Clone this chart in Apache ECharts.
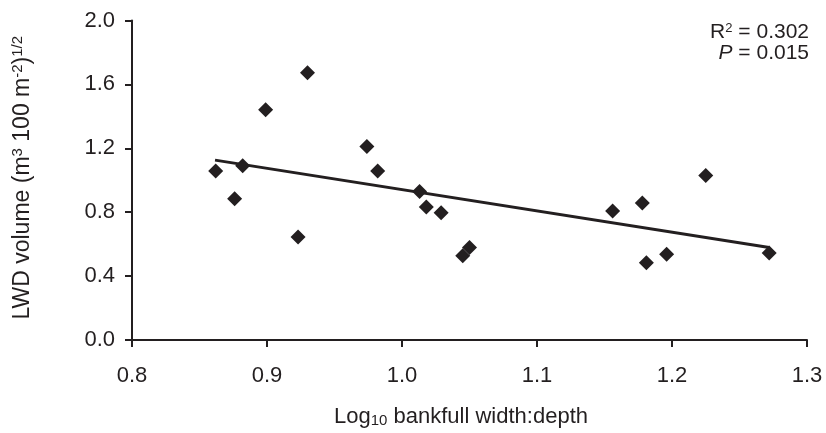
<!DOCTYPE html>
<html lang="en">
<head>
    <meta charset="utf-8"/>
    <title>LWD volume vs bankfull width:depth</title>
    <script src="https://cdn.jsdelivr.net/npm/echarts@6/dist/echarts.min.js"></script>
</head>
<body style="margin: 0;">
<div id="chart" style="width: 826px;height: 433px;"></div>

<script type="text/javascript">
    // log10 bankfull width:depth
    var widthDepth = [0.862, 0.876, 0.882, 0.899, 0.923, 0.930, 0.974, 0.982, 1.013, 1.018,
        1.029, 1.045, 1.050, 1.156, 1.178, 1.181, 1.196, 1.225, 1.272];
    // LWD volume (m3 100 m-2)^1/2
    var lwdVolume = [1.058, 0.884, 1.091, 1.441, 0.645, 1.673, 1.212, 1.058, 0.930, 0.833,
        0.796, 0.528, 0.579, 0.808, 0.858, 0.484, 0.536, 1.029, 0.544];
    // regression line end points
    var fitX = [0.8615, 1.272];
    var fitY = [1.126, 0.579];

    var yTicks = [0.0, 0.4, 0.8, 1.2, 1.6, 2.0];

    var ink = '#231f20';
    var font = 'Liberation Sans, Arial, sans-serif';

    var points = widthDepth.map(function (x, i) {
        return [x, lwdVolume[i]];
    });
    var fitLine = fitX.map(function (x, i) {
        return [x, fitY[i]];
    });

    var chart = echarts.init(document.getElementById('chart'));

    chart.setOption({
        animation: false,
        backgroundColor: '#fff',
        grid: {left: 132, right: 19, top: 20.5, bottom: 89.5},
        xAxis: {
            type: 'value',
            min: 0.8,
            max: 1.3,
            interval: 0.1,
            name: '{n|Log}{s|10}{n| bankfull width:depth}',
            nameLocation: 'middle',
            nameGap: 65,
            nameTextStyle: {
                padding: [0, 17, 0, 0],
                rich: {
                    n: {fontSize: 22, fontFamily: font, color: ink},
                    s: {fontSize: 15, fontFamily: font, color: ink, verticalAlign: 'bottom', padding: [8, 0, 0, 0]}
                }
            },
            splitLine: {show: false},
            axisLine: {lineStyle: {color: ink, width: 2}},
            axisTick: {length: 7, lineStyle: {color: ink, width: 2}},
            axisLabel: {
                margin: 25,
                fontSize: 22,
                fontFamily: font,
                color: ink,
                formatter: function (v) { return v.toFixed(1); }
            }
        },
        yAxis: {
            type: 'value',
            min: yTicks[0],
            max: yTicks[yTicks.length - 1],
            interval: 0.4,
            name: '{n|LWD volume (m}{s|3}{n| 100 m}{s|-2}{n|)}{s|1/2}',
            nameLocation: 'middle',
            nameRotate: 90,
            nameGap: 97,
            nameTextStyle: {
                padding: [0, 0, 0, 5],
                rich: {
                    n: {fontSize: 23, fontFamily: font, color: ink},
                    s: {fontSize: 15, fontFamily: font, color: ink, verticalAlign: 'top', padding: [0, 0, 10, 0]}
                }
            },
            splitLine: {show: false},
            axisLine: {show: true, lineStyle: {color: ink, width: 2}},
            axisTick: {show: true, length: 7, lineStyle: {color: ink, width: 2}},
            axisLabel: {
                margin: 17,
                fontSize: 22,
                fontFamily: font,
                color: ink,
                formatter: function (v) { return v.toFixed(1); }
            }
        },
        graphic: [
            {
                type: 'text',
                right: 17,
                top: 22,
                style: {
                    text: '{n|R}{s|2}{n| = 0.302}',
                    align: 'right',
                    rich: {
                        n: {fontSize: 21, fontFamily: font, fill: ink},
                        s: {fontSize: 13, fontFamily: font, fill: ink, verticalAlign: 'top', padding: [0, 0, 8, 0]}
                    }
                }
            },
            {
                type: 'text',
                right: 17,
                top: 43,
                style: {
                    text: '{i|P}{n| = 0.015}',
                    align: 'right',
                    rich: {
                        n: {fontSize: 21, fontFamily: font, fill: ink},
                        i: {fontSize: 21, fontFamily: font, fontStyle: 'italic', fill: ink}
                    }
                }
            }
        ],
        series: [
            {
                type: 'line',
                data: fitLine,
                symbol: 'none',
                lineStyle: {color: ink, width: 3},
                z: 2
            },
            {
                type: 'scatter',
                data: points,
                symbol: 'diamond',
                symbolSize: [15, 15],
                itemStyle: {color: ink, opacity: 1},
                z: 3
            }
        ]
    });
</script>
</body>
</html>
